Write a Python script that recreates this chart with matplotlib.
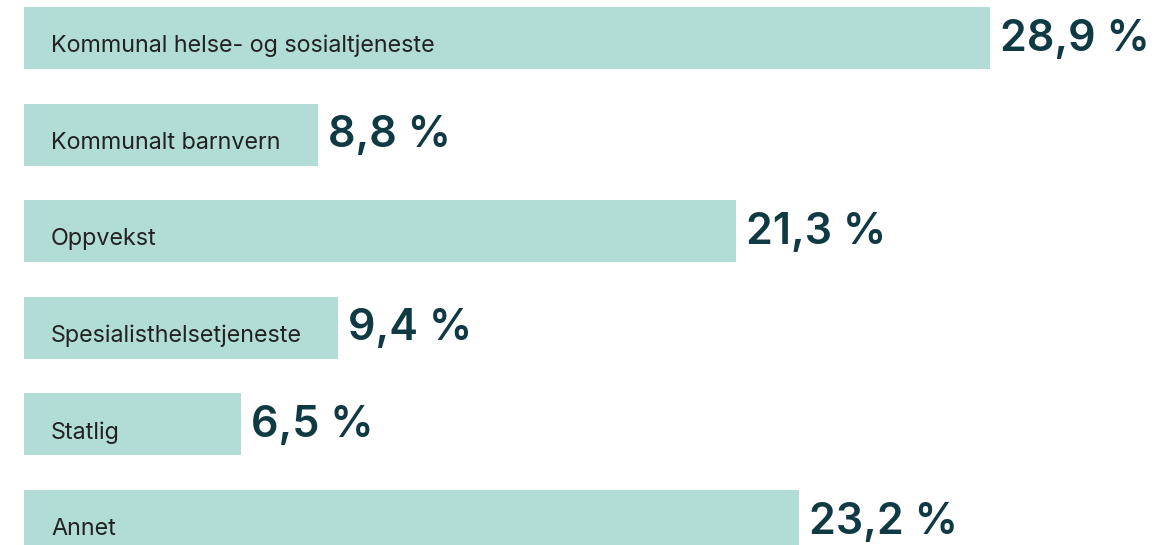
import matplotlib
matplotlib.use('Agg')
import matplotlib.pyplot as plt

categories = ['Kommunal helse- og sosialtjeneste', 'Kommunalt barnvern', 'Oppvekst',
              'Spesialisthelsetjeneste', 'Statlig', 'Annet']
values = [28.9, 8.8, 21.3, 9.4, 6.5, 23.2]
value_labels = ['28,9 %', '8,8 %', '21,3 %', '9,4 %', '6,5 %', '23,2 %']

bar_color = '#b2ddd6'
value_color = '#0f3a44'
label_color = '#222222'

plt.rcParams['font.family'] = ['Inter', 'DejaVu Sans']

fig = plt.figure(figsize=(11.76, 5.45), dpi=100)
ax = fig.add_axes([0, 0, 1, 1])

ypos = list(range(len(values)))
ax.barh(ypos, values, height=0.64, left=0, color=bar_color)

for y, v, cat, lab in zip(ypos, values, categories, value_labels):
    ax.annotate(cat, (0, y), xytext=(27, -8), textcoords='offset pixels',
                ha='left', va='center', fontsize=16.8, color=label_color)
    ax.annotate(lab, (v, y), xytext=(10, -1), textcoords='offset pixels',
                ha='left', va='center', fontsize=31, color=value_color,
                fontweight='semibold')

scale = 966 / values[0]
ax.set_xlim(-24 / scale, (1176 - 24) / scale)
ax.set_ylim(5 + 24 / 96.6, -38 / 96.6)
ax.axis('off')

fig.savefig('out.png', dpi=100)
